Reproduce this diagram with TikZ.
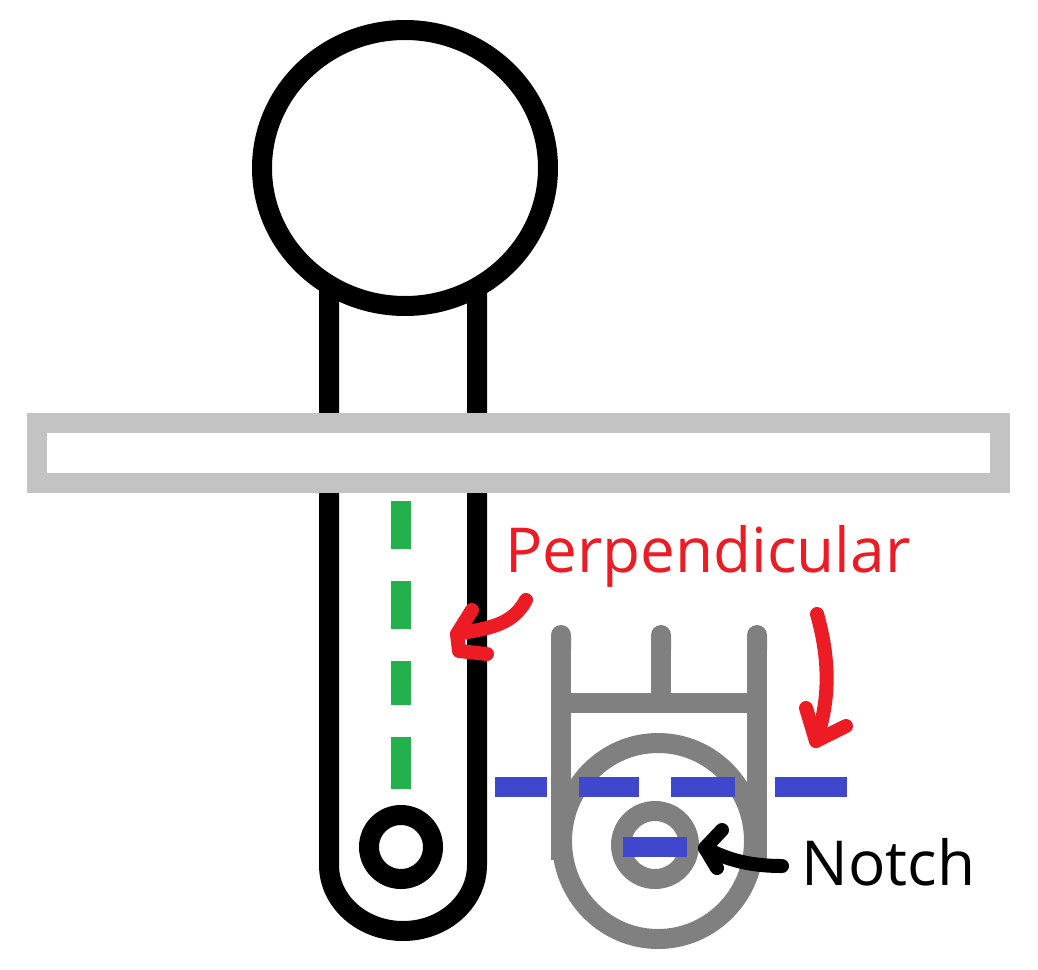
\documentclass[tikz,border=0pt]{standalone}
\usepackage{fontspec}
\usepackage{xcolor}
\usetikzlibrary{arrows.meta}
\setmainfont{Open Sans}
\definecolor{wallgray}{HTML}{C3C3C3}
\definecolor{notchblue}{HTML}{3F48CC}
\definecolor{pinkred}{HTML}{ED1C24}
\definecolor{slotgreen}{HTML}{22B14C}
\tikzset{
    thick line/.style={line width=10pt},
    pencil/.style={line width=7pt,line cap=round,line join=round},
    sketch label/.style={font=\fontsize{31}{36}\selectfont,anchor=base west,inner sep=0pt}
}
\begin{document}
\begin{tikzpicture}[x=0.5pt,y=-0.5pt]
    \useasboundingbox (0,0) rectangle (1038,969);
    % big part on the left
    \draw[thick line] (405,168) ellipse [x radius=71.5pt,y radius=69pt];
    \draw[thick line] (329,290) -- (329,865) arc [start angle=180,end angle=360,x radius=37pt,y radius=33pt] -- (477,290);
    \draw[thick line] (401,847) circle [radius=16pt];
    \draw[thick line,draw=wallgray,fill=white] (37,423) rectangle (1000,483);
    \foreach \ya/\yb in {501/549,581/629,661/705,737/789}
        \draw[thick line,draw=slotgreen] (401,\ya) -- (401,\yb);

    % small part on the right
    \foreach \xa/\yb in {561/860,757/860,661/703}
        \draw[thick line,draw=gray,{Round Cap[]}-] (\xa,625) -- (\xa,\yb);
    \draw[thick line,draw=gray] (561,703) -- (757,703);
    \draw[thick line,draw=gray] (658,841) ellipse [x radius=48pt,y radius=49pt];
    \draw[thick line,draw=gray] (655,845) circle [radius=17pt];
    \foreach \xa/\xb in {495/547,579/639,671/735,775/847}
        \draw[thick line,draw=notchblue] (\xa,787) -- (\xb,787);
    \draw[thick line,draw=notchblue] (623,847) -- (687,847);

    % labels and hand drawn arrows
    \node[sketch label,text=pinkred] (perp) at (505,572) {Perpendicular};
    \node[sketch label] (notch) at (801,885) {Notch};

    \coordinate (a1) at (526,600);
    \coordinate (a2) at (457,634);
    \draw[pencil,draw=pinkred] (a1) .. controls (512,626) and (488,628) .. (a2);
    \draw[pencil,draw=pinkred] (472,610) -- (a2) -- (459,651) -- (487,654);

    \coordinate (b1) at (817,614);
    \coordinate (b2) at (816,741);
    \draw[pencil,draw=pinkred] (b1) .. controls (830,660) and (830,700) .. (b2);
    \draw[pencil,draw=pinkred] (806,708) -- (b2) -- (846,726);

    \coordinate (c1) at (782,866);
    \coordinate (c2) at (705,848);
    \draw[pencil] (c1) .. controls (750,866) and (728,860) .. (c2);
    \draw[pencil] (722,830) -- (c2) -- (717,868);
\end{tikzpicture}
\end{document}
